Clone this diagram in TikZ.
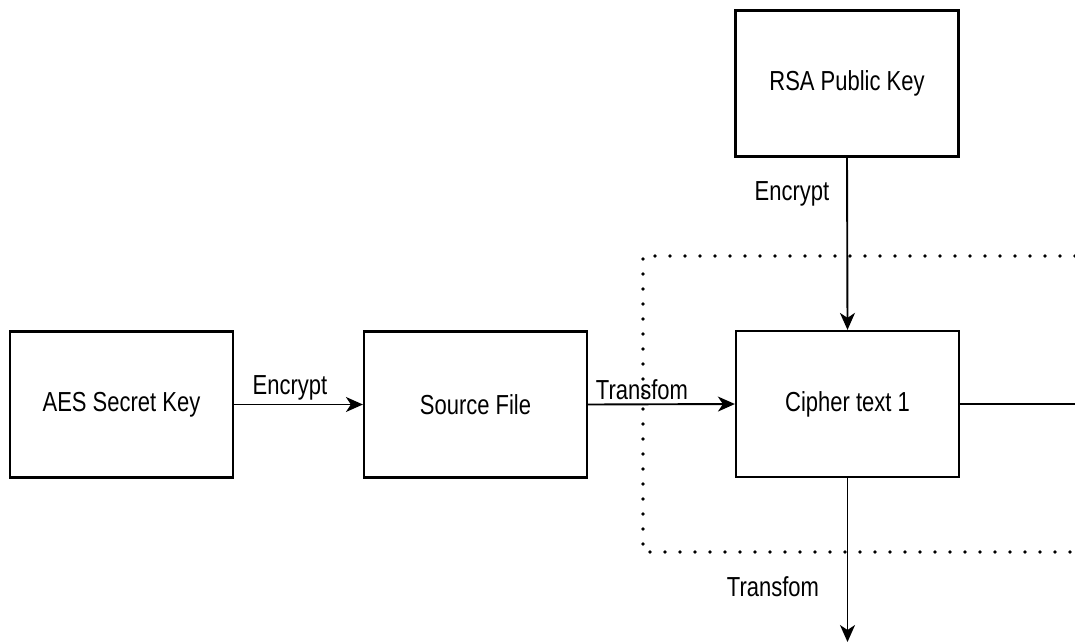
\documentclass[tikz,border=0pt]{standalone}
\usepackage{fontspec}
\setmainfont[FakeStretch=0.8]{Liberation Sans}
\usetikzlibrary{arrows.meta}
\tikzset{
  box/.style={draw=black, line width=2.2pt, minimum width=223pt, minimum height=146pt, inner sep=0pt, font=\fontsize{27.5}{32}\selectfont},
  conn/.style={draw=black, line width=1.9pt},
  arr/.style={conn, -{Stealth[length=17pt,width=15pt,inset=5pt]}},
  lbl/.style={inner sep=0pt, font=\fontsize{27.5}{32}\selectfont},
  dotline/.style={draw=black, line width=3.8pt, line cap=round, dash pattern=on 0pt off 15pt}
}
\begin{document}
\begin{tikzpicture}[x=1pt,y=-1pt]
\useasboundingbox (0,0) rectangle (1075,642);
\node[box] (aes) at (121.5,404.5) {AES Secret Key};
\node[box] (src) at (475.5,404.5) {Source File};
\node[box] (ct) at (847.5,404) {Cipher text 1};
\node[box] (rsa) at (847,83.5) {RSA Public Key};
\coordinate (rt) at (1075,404);
\coordinate (bt) at (847.5,642);
\coordinate (d1) at (1075,256);
\coordinate (d2) at (643,256);
\coordinate (d3) at (643,552);
\coordinate (d4) at (1075,552);
\draw[dotline] (d1) -- (d2) -- (d3) -- (d4);
\draw[arr] (aes.east) -- (src.west);
\draw[arr] (src.east) -- (ct.west);
\draw[conn] (ct.east) -- (rt);
\draw[arr] (rsa.south) -- (ct.north);
\draw[arr] (ct.south) -- (bt);
\node[lbl] (l1) at (290,388) {Encrypt};
\node[lbl] (l2) at (642,390) {Transfom};
\node[lbl] (l3) at (792,194) {Encrypt};
\node[lbl] (l4) at (773,587) {Transfom};
\end{tikzpicture}
\end{document}
